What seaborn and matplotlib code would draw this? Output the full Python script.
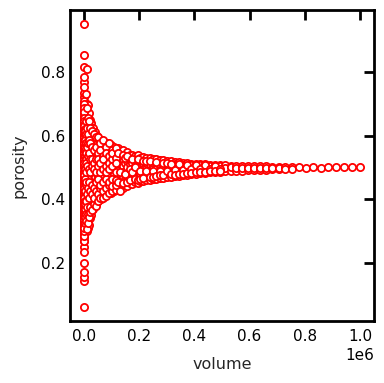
import matplotlib
matplotlib.use("Agg")
import matplotlib.pyplot as plt
import seaborn as sns
import pandas as pd

# sub-volume sizes (voxels) and porosity samples
volumes = [8, 64, 216, 512, 1000, 1728, 2744, 4096, 5832, 8000,
           10648, 13824, 17576, 21952, 27000, 32768, 39304, 46656, 54872, 64000,
           74088, 85184, 97336, 110592,
           125000, 132651, 140608, 148877, 157464, 166375, 175616, 185193, 195112, 205379,
           216000, 226981, 238328, 250047, 262144, 274625, 287496, 300763, 314432, 328509,
           343000, 357911, 373248, 389017, 405224, 421875, 438976, 456533, 474552, 493039,
           512000, 531441, 551368, 571787, 592704, 614125, 636056, 658503, 681472, 704969,
           729000, 753571, 778688, 804357, 830584, 857375, 884736, 912673, 941192, 970299,
           1000000]

porosity = [
    [0.95, 0.062, 0.853, 0.144, 0.72, 0.25, 0.60, 0.38, 0.50, 0.45],
    [0.816, 0.156, 0.769, 0.20, 0.66, 0.31, 0.55, 0.42, 0.48, 0.58],
    [0.784, 0.172, 0.734, 0.234, 0.64, 0.35, 0.52, 0.44, 0.60, 0.40],
    [0.753, 0.27, 0.70, 0.30, 0.62, 0.36, 0.57, 0.46, 0.51, 0.43],
    [0.71, 0.28, 0.68, 0.33, 0.60, 0.37, 0.54, 0.47, 0.50, 0.41],
    [0.69, 0.29, 0.65, 0.32, 0.63, 0.39, 0.56, 0.45, 0.53, 0.44],
    [0.67, 0.30, 0.62, 0.34, 0.59, 0.40, 0.55, 0.46, 0.49, 0.52],
    [0.66, 0.31, 0.61, 0.35, 0.58, 0.39, 0.53, 0.45, 0.50, 0.47],
    [0.65, 0.33, 0.60, 0.36, 0.57, 0.41, 0.54, 0.44, 0.51, 0.48],
    [0.64, 0.32, 0.59, 0.37, 0.56, 0.42, 0.53, 0.46, 0.49, 0.50],
    [0.81, 0.30, 0.70, 0.36, 0.62, 0.42, 0.55, 0.47],
    [0.697, 0.31, 0.66, 0.37, 0.59, 0.43, 0.53, 0.48],
    [0.67, 0.32, 0.61, 0.38, 0.57, 0.44, 0.52, 0.46],
    [0.65, 0.34, 0.60, 0.39, 0.56, 0.45, 0.51, 0.47],
    [0.64, 0.35, 0.59, 0.40, 0.55, 0.43, 0.50, 0.47],
    [0.625, 0.37, 0.58, 0.41, 0.54, 0.44, 0.51, 0.48],
    [0.61, 0.38, 0.57, 0.42, 0.53, 0.45, 0.50, 0.47],
    [0.60, 0.39, 0.56, 0.42, 0.54, 0.46, 0.51, 0.48],
    [0.59, 0.40, 0.55, 0.43, 0.53, 0.45, 0.50, 0.47],
    [0.585, 0.40, 0.55, 0.44, 0.52, 0.46, 0.50, 0.48],
    [0.58, 0.41, 0.54, 0.44, 0.525, 0.46, 0.49, 0.475],
    [0.575, 0.415, 0.545, 0.445, 0.52, 0.465, 0.50, 0.48],
    [0.57, 0.42, 0.54, 0.45, 0.515, 0.47, 0.495, 0.48],
    [0.565, 0.425, 0.535, 0.455, 0.51, 0.47, 0.49, 0.48],
    [0.56, 0.43, 0.52, 0.47, 0.495],
    [0.545, 0.44, 0.51, 0.46, 0.53],
    [0.555, 0.435, 0.505, 0.47, 0.525],
    [0.54, 0.445, 0.515, 0.465, 0.49],
    [0.548, 0.442, 0.52, 0.47, 0.50],
    [0.54, 0.45, 0.51, 0.475, 0.525],
    [0.54, 0.448, 0.515, 0.47, 0.495],
    [0.535, 0.455, 0.505, 0.48, 0.52],
    [0.538, 0.452, 0.51, 0.474, 0.49],
    [0.53, 0.458, 0.515, 0.478, 0.50],
    [0.533, 0.456, 0.51, 0.48, 0.495],
    [0.528, 0.46, 0.505, 0.475, 0.515],
    [0.53, 0.46, 0.51, 0.48, 0.49],
    [0.525, 0.465, 0.505, 0.478, 0.515],
    [0.527, 0.462, 0.51, 0.483, 0.495],
    [0.522, 0.468, 0.505, 0.48, 0.512],
    [0.524, 0.466, 0.508, 0.485, 0.497],
    [0.52, 0.47, 0.503, 0.482, 0.51],
    [0.52, 0.47, 0.507, 0.486, 0.495],
    [0.518, 0.473, 0.502, 0.484, 0.51],
    [0.517, 0.473, 0.505, 0.487, 0.497],
    [0.515, 0.476, 0.50, 0.486, 0.508],
    [0.514, 0.477, 0.504, 0.489, 0.496],
    [0.512, 0.479, 0.50, 0.487, 0.507],
    [0.512, 0.48, 0.503, 0.49, 0.497],
    [0.51, 0.482, 0.50, 0.489, 0.506],
    [0.51, 0.483, 0.502, 0.491, 0.497],
    [0.508, 0.485, 0.499, 0.49, 0.504],
    [0.508, 0.486, 0.501, 0.492, 0.497],
    [0.507, 0.487, 0.499, 0.491, 0.503],
    [0.506, 0.488, 0.498],
    [0.505, 0.489, 0.50],
    [0.505, 0.49, 0.497],
    [0.504, 0.49, 0.499],
    [0.504, 0.491, 0.497],
    [0.503, 0.492, 0.499],
    [0.503, 0.492, 0.497],
    [0.503, 0.493, 0.499],
    [0.502, 0.494, 0.498],
    [0.502, 0.494, 0.499],
    [0.501, 0.495],
    [0.50, 0.496],
    [0.501],
    [0.499],
    [0.50],
    [0.499],
    [0.50],
    [0.50],
    [0.501],
    [0.501],
    [0.502],
]

# additional samples at odd sizes in the dense fan
volumes_odd = [27, 125, 343, 729, 1331, 2197, 3375, 4913, 6859,
               9261, 12167, 15625, 19683, 24389, 29791, 35937, 42875, 50653,
               59319, 68921, 79507, 91125, 103823, 117649]

porosity_odd = [
    [0.70, 0.27, 0.64, 0.34, 0.57, 0.43, 0.515, 0.395],
    [0.685, 0.285, 0.62, 0.355, 0.545, 0.455, 0.59, 0.375],
    [0.675, 0.30, 0.605, 0.325, 0.565, 0.415, 0.485, 0.535],
    [0.655, 0.315, 0.635, 0.345, 0.585, 0.425, 0.505, 0.445],
    [0.645, 0.31, 0.615, 0.365, 0.575, 0.405, 0.525, 0.465],
    [0.63, 0.335, 0.595, 0.385, 0.545, 0.435, 0.475, 0.515],
    [0.62, 0.325, 0.605, 0.37, 0.555, 0.395, 0.495, 0.455],
    [0.615, 0.345, 0.585, 0.385, 0.535, 0.425, 0.565, 0.465],
    [0.605, 0.355, 0.575, 0.395, 0.525, 0.445, 0.545, 0.485],
    [0.73, 0.33, 0.645, 0.395, 0.575, 0.455, 0.515],
    [0.685, 0.305, 0.625, 0.375, 0.565, 0.415, 0.505],
    [0.655, 0.325, 0.605, 0.355, 0.535, 0.435, 0.575],
    [0.645, 0.345, 0.585, 0.405, 0.545, 0.455, 0.495],
    [0.625, 0.36, 0.575, 0.375, 0.525, 0.425, 0.485],
    [0.615, 0.365, 0.565, 0.415, 0.525, 0.445, 0.505],
    [0.605, 0.385, 0.555, 0.405, 0.515, 0.435, 0.495],
    [0.595, 0.38, 0.565, 0.425, 0.525, 0.455, 0.485],
    [0.595, 0.395, 0.545, 0.415, 0.505, 0.465, 0.525],
    [0.575, 0.405, 0.555, 0.435, 0.515, 0.445, 0.485],
    [0.585, 0.405, 0.535, 0.425, 0.495, 0.455, 0.525],
    [0.565, 0.41, 0.545, 0.435, 0.505, 0.465, 0.485],
    [0.575, 0.42, 0.535, 0.445, 0.515, 0.455, 0.495],
    [0.555, 0.425, 0.525, 0.44, 0.505, 0.465, 0.545],
    [0.56, 0.43, 0.53, 0.445, 0.515, 0.46, 0.485],
]

# further samples for sizes 50..79
volumes_mid = [125000, 132651, 140608, 148877, 157464, 166375, 175616, 185193, 195112, 205379,
               216000, 226981, 238328, 250047, 262144, 274625, 287496, 300763, 314432, 328509,
               343000, 357911, 373248, 389017, 405224, 421875, 438976, 456533, 474552, 493039]

porosity_mid = [
    [0.545, 0.455], [0.485, 0.425], [0.54, 0.45], [0.53, 0.48], [0.455, 0.535],
    [0.46, 0.495], [0.525, 0.485], [0.465, 0.50], [0.525, 0.46], [0.49, 0.465],
    [0.52, 0.468], [0.49, 0.52], [0.47, 0.52], [0.49, 0.47], [0.518, 0.472],
    [0.49, 0.475], [0.515, 0.475], [0.49, 0.513], [0.478, 0.512], [0.493, 0.477],
    [0.51, 0.48], [0.493, 0.48], [0.508, 0.483], [0.495, 0.483], [0.484, 0.507],
    [0.495, 0.486], [0.506, 0.487], [0.494, 0.488], [0.504, 0.489], [0.495, 0.49],
]

rows = []
for vols, pors in [(volumes, porosity), (volumes_odd, porosity_odd), (volumes_mid, porosity_mid)]:
    rows += [(v, p) for v, ps in zip(vols, pors) for p in ps]
df = pd.DataFrame(rows, columns=["volume", "porosity"])

sns.set_style("white")
plt.rcParams['font.family'] = ['DejaVu Sans']

fig = plt.figure(figsize=(3.84, 3.83), dpi=100)
ax = fig.add_axes([0.182, 0.162, 0.792, 0.812])

sns.scatterplot(data=df, x="volume", y="porosity", ax=ax,
                marker="o", s=27, facecolor="white", edgecolor="red",
                linewidth=1.3, legend=False)

ax.set_xticks([0, 200000, 400000, 600000, 800000, 1000000])
ax.set_yticks([0.2, 0.4, 0.6, 0.8])
for side in ["left", "right", "top", "bottom"]:
    ax.spines[side].set_linewidth(2)
    ax.spines[side].set_color("black")
ax.tick_params(axis="both", which="major", direction="in", length=7, width=2,
               top=True, right=True, labelsize=11, colors="black")
ax.tick_params(axis="x", pad=6)
ax.xaxis.get_offset_text().set_fontsize(11)
ax.set_xlabel("volume", fontsize=11.5, labelpad=9)
ax.set_ylabel("porosity", fontsize=11.5, labelpad=10)

fig.savefig("out.png", dpi=100)
